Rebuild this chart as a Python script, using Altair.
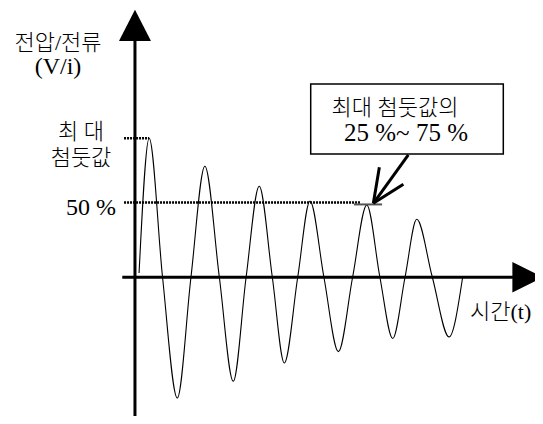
import altair as alt
import pandas as pd

# ---- data (time units, value in % of first peak) ----
t_pts = [1.5, 5.2, 10.1, 15.5, 20.5, 25.6, 30.9, 36.0, 40.7, 45.5, 50.3, 54.7, 59.6,
         64.1, 69.2, 74.5, 79.7, 84.9, 89.7, 94.4, 98.9, 103.2, 108.9, 115.0, 120.0]
v_pts = [3, 100, 0, -86.8, 0, 79.9, 0, -74.8, 0, 65.5, 0, -61.7, 0,
         54.9, 0, -53.5, 0, 52.0, 0, -44.1, 0, 41.7, 0, -42.9, 0]

peak_level = 100
half_level = 53.7
fifth_peak = 52.4

y_title = ["전압/전류", "(V/i)"]
peak_label = ["최 대", "첨둣값"]
half_label = "50 %"
x_title = "시간(t)"
note_lines = ["최대 첨둣값의", "25 %~ 75 %"]

W, H = 527, 408
FONT = "Liberation Serif, DejaVu Serif, Noto Sans CJK KR"
xs = alt.Scale(domain=[-46.5, 146.5], nice=False, zero=False)
ys = alt.Scale(domain=[-99.8, 193.7], nice=False, zero=False)
X = lambda f: alt.X(f, scale=xs, axis=None)
Y = lambda f: alt.Y(f, scale=ys, axis=None)

curve = alt.Chart(pd.DataFrame({"t": t_pts, "v": v_pts})).mark_line(
    interpolate="monotone", color="black", strokeWidth=1.1
).encode(x=X("t:Q"), y=Y("v:Q"))

guides = alt.Chart(pd.DataFrame({
    "t": [-4.0, -4.0], "t2": [5.2, 82.4], "v": [peak_level, half_level]
})).mark_rule(color="black", strokeWidth=2.5, strokeDash=[2, 1]).encode(
    x=X("t:Q"), x2="t2:Q", y=Y("v:Q"))

tangent = alt.Chart(pd.DataFrame({"t": [80.2], "t2": [90.5], "v": [fifth_peak]})).mark_rule(
    color="#555555", strokeWidth=2).encode(x=X("t:Q"), x2="t2:Q", y=Y("v:Q"))

axes = alt.Chart(pd.DataFrame({
    "t": [-4.65, 0], "t2": [141.6, 0], "v": [0, 178], "v2": [0, -99.8]
})).mark_rule(color="black", strokeWidth=3).encode(
    x=X("t:Q"), x2="t2:Q", y=Y("v:Q"), y2="v2:Q")

heads = alt.Chart(pd.DataFrame({
    "t": [0, 143.8], "v": [181.2, 0],
    "shape": ["M0,-0.97L1,0.97L-1,0.97Z", "M1,0L-1,-1L-1,1Z"],
    "size": [1024, 930],
})).mark_point(filled=True, color="black", opacity=1, strokeWidth=0).encode(
    x=X("t:Q"), y=Y("v:Q"),
    shape=alt.Shape("shape:N", scale=None),
    size=alt.Size("size:Q", scale=None))

callout = alt.Chart(pd.DataFrame({
    "t": [100.1, 87.3, 87.3], "v": [88.0, 53.2, 53.2],
    "t2": [87.3, 89.5, 98.3], "v2": [53.2, 79.1, 66.9],
})).mark_rule(color="black", strokeWidth=3).encode(
    x=X("t:Q"), x2="t2:Q", y=Y("v:Q"), y2="v2:Q")

one = pd.DataFrame({"a": [0]})
box = alt.Chart(one).mark_rect(fill="white", stroke="black", strokeWidth=1.5).encode(
    x=alt.value(302.7), x2=alt.value(495.3), y=alt.value(76), y2=alt.value(146))


def label(text, x, y, size=22, align="center"):
    return alt.Chart(one).mark_text(
        text=text, font=FONT, fontSize=size, fontWeight=300, align=align,
        baseline="middle", color="black"
    ).encode(x=alt.value(x), y=alt.value(y))


texts = [
    label(y_title[0], 50, 35),
    label(y_title[1], 50, 59, size=24),
    label(peak_label[0], 73, 124),
    label(peak_label[1], 73, 150),
    label(half_label, 108, 200, size=24, align="right"),
    label(x_title, 462, 304, align="left"),
    label(note_lines[0], 387, 100),
    label(note_lines[1], 398, 125, size=25),
]

chart = alt.layer(curve, guides, tangent, axes, heads, callout, box, *texts).properties(
    width=W, height=H, padding=0, autosize="none"
).configure_view(stroke=None)

chart.save("out.html", embed_options={"renderer": "svg", "actions": False})
